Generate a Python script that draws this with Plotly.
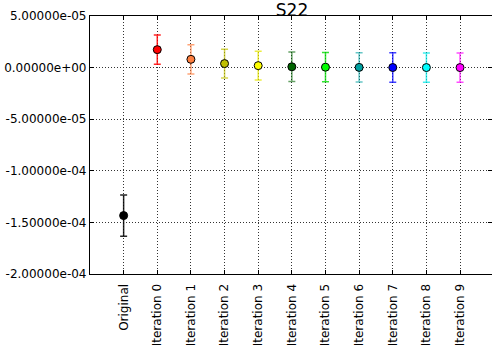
import plotly.graph_objects as go

categories = ["Original", "Iteration 0", "Iteration 1", "Iteration 2", "Iteration 3",
              "Iteration 4", "Iteration 5", "Iteration 6", "Iteration 7", "Iteration 8", "Iteration 9"]
values = [-1.434e-4, 1.74e-5, 8.0e-6, 3.9e-6, 1.9e-6, 0.8e-6, 0.4e-6, 0.2e-6, 0.1e-6, 0.05e-6, 0.02e-6]
errors = [2.0e-5, 1.42e-5, 1.41e-5, 1.40e-5, 1.40e-5, 1.42e-5, 1.42e-5, 1.42e-5, 1.42e-5, 1.42e-5, 1.42e-5]
colors = ["#000000", "#ff0000", "#ff7f3f", "#bfbf00", "#ffff00", "#006400",
          "#00ff00", "#00a0a0", "#0000ff", "#00ffff", "#ff00ff"]
err_colors = ["rgba(0,0,0,0.85)", "rgba(255,0,0,0.85)", "rgba(255,127,63,0.7)", "rgba(191,191,0,0.7)",
              "rgba(230,230,0,0.75)", "rgba(0,100,0,0.6)", "rgba(0,220,0,0.8)", "rgba(0,160,160,0.6)",
              "rgba(0,0,255,0.75)", "rgba(0,230,230,0.75)", "rgba(255,0,255,0.7)"]
ytick_vals = [5e-5, 0, -5e-5, -1e-4, -1.5e-4, -2e-4]
ytick_text = ["5.00000e-05", "0.00000e+00", "-5.00000e-05", "-1.00000e-04", "-1.50000e-04", "-2.00000e-04"]

fig = go.Figure()
for i, (c, v, e) in enumerate(zip(categories, values, errors)):
    fig.add_trace(go.Scatter(
        x=[i], y=[v], mode="markers",
        marker=dict(size=8, color=colors[i], line=dict(color="black", width=1)),
        error_y=dict(type="data", array=[e], visible=True, color=err_colors[i], thickness=1.5, width=3.5),
        showlegend=False, cliponaxis=False,
    ))

axis_common = dict(
    showline=True, linecolor="black", linewidth=1.2, mirror="ticks",
    ticks="inside", ticklen=4, tickcolor="black",
    showgrid=True, gridcolor="#333333", griddash="1px,2px", gridwidth=1,
    zeroline=False, tickfont=dict(family="DejaVu Sans", size=12, color="black"),
)

fig.update_layout(
    width=492, height=346,
    margin=dict(l=90, r=0, t=16, b=72, autoexpand=False),
    plot_bgcolor="white", paper_bgcolor="white",
    title=dict(text="S22", x=(90 + 494) / 2 / 492, xanchor="center", y=1 - 10 / 346, yanchor="middle",
               font=dict(family="DejaVu Sans", size=17, color="black")),
    xaxis=dict(axis_common, range=[-1, 10.95], tickmode="array", automargin=False,
               tickvals=list(range(len(categories))), ticktext=categories, tickangle=-90,
               ticklabelstandoff=4),
    yaxis=dict(axis_common, range=[-2e-4, 5e-5], tickmode="array", automargin=False,
               tickvals=ytick_vals, ticktext=ytick_text),
)

fig.write_html("out.html", config={"displayModeBar": False},
               post_script="document.body.style.margin='0px';document.body.style.overflow='hidden';")
